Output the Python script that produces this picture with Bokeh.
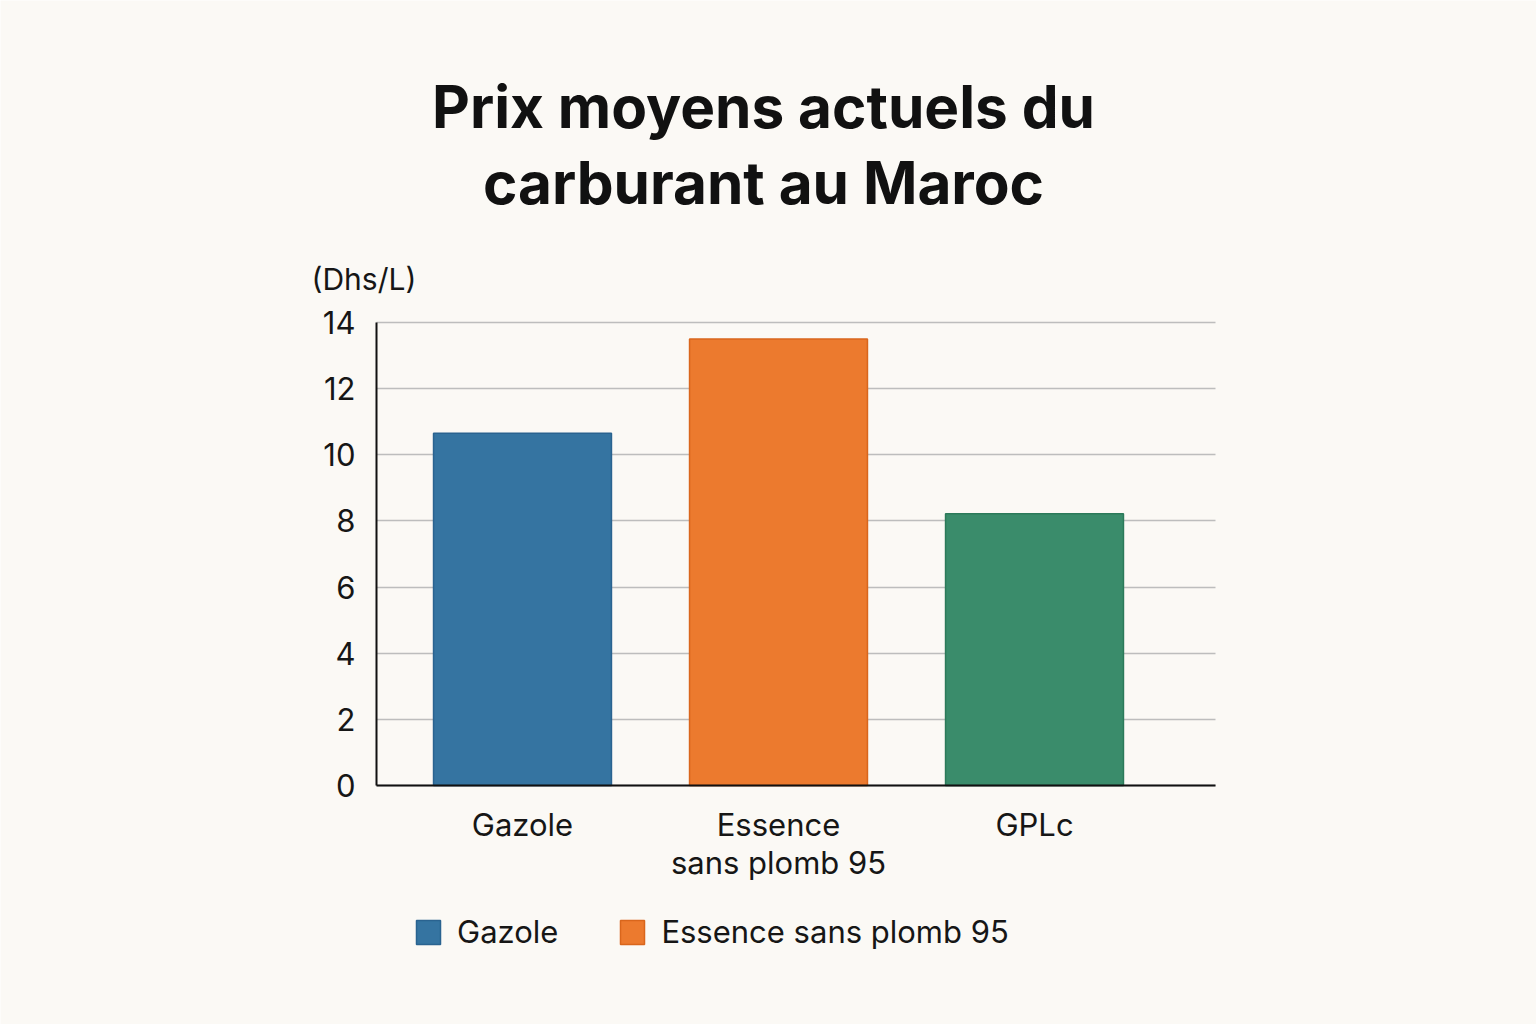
from bokeh.plotting import figure
from bokeh.models import Range1d, FixedTicker, Label, Legend, LegendItem, ColumnDataSource
from bokeh.embed import file_html
from bokeh.resources import INLINE

# ---- data ----
categories = ["Gazole", "Essence\nsans plomb 95", "GPLc"]
prices = [10.65, 13.5, 8.22]
bar_colors = ["#3574A1", "#EC7A2E", "#3A8C6B"]
edge_colors = ["#2A6390", "#D9661C", "#2C7A5A"]
y_ticks = [0, 2, 4, 6, 8, 10, 12, 14]
title_lines = ["Prix moyens actuels du", "carburant au Maroc"]
unit_label = "(Dhs/L)"
legend_labels = ["Gazole", "Essence sans plomb 95"]

FONT = "Inter"
BG = "#FBF9F5"
TXT = "#161616"

# ---- layout geometry (page pixels) ----
W, H = 1536, 1024
AL, AR, AT, AB = 376, 1215, 321, 785        # chart area edges
XL, XR = -0.5703, 2.707                     # chart area x extent (data)
YB, YT = 0.0, 14.03                         # chart area y extent (data)
sx = (AR - AL) / (XR - XL)
sy = (AB - AT) / (YT - YB)

def dx(px):
    return XL + (px - AL) / sx

def dy(py):
    return YB + (AB - py) / sy

xs = list(range(len(categories)))
src = ColumnDataSource(dict(x=xs, top=prices, fill=bar_colors, edge=edge_colors))

p = figure(width=W, height=H, x_range=Range1d(dx(0), dx(W)), y_range=Range1d(dy(H), dy(0)),
           output_backend="svg", toolbar_location=None,
           min_border=0, min_border_left=0, min_border_right=0,
           min_border_top=0, min_border_bottom=0)
p.background_fill_color = BG
p.border_fill_color = BG
p.outline_line_color = None

r = p.vbar(x="x", top="top", width=0.695, source=src,
           fill_color="fill", line_color="edge", line_width=1.5)

p.xgrid.grid_line_color = None
p.ygrid.grid_line_color = "#BDBDBD"
p.ygrid.grid_line_width = 1.5
p.ygrid.ticker = FixedTicker(ticks=y_ticks)
p.ygrid.cross_bounds = (XL, XR)

p.yaxis.ticker = FixedTicker(ticks=y_ticks)
p.yaxis.fixed_location = XL
p.yaxis.bounds = (0, 14)
p.xaxis.ticker = FixedTicker(ticks=xs)
p.xaxis.fixed_location = 0
p.xaxis.bounds = (XL, XR)
p.xaxis.major_label_overrides = {i: c for i, c in zip(xs, categories)}

for ax in (p.xaxis, p.yaxis):
    ax.axis_line_color = "#111111"
    ax.axis_line_width = 2
    ax.major_tick_line_color = None
    ax.minor_tick_line_color = None
    ax.major_label_text_font = FONT
    ax.major_label_text_font_size = "31px"
    ax.major_label_text_color = TXT
p.yaxis.major_label_standoff = 15
p.xaxis.major_label_standoff = 14
p.xaxis.major_label_text_line_height = 1.05

for line, base in zip(title_lines, [106, 182]):
    p.add_layout(Label(x=dx(763), y=dy(base), text=line, text_align="center",
                       text_baseline="alphabetic", text_font=FONT, text_font_style="bold",
                       text_font_size="58.5px", text_color="#111111"))
p.add_layout(Label(x=dx(311), y=dy(278), text=unit_label, text_align="left",
                   text_baseline="alphabetic", text_font=FONT, text_font_size="30px",
                   text_color=TXT))

legend = Legend(items=[LegendItem(label=legend_labels[i], renderers=[r], index=i) for i in range(2)],
                orientation="horizontal", location=(413, 74),
                glyph_width=30, glyph_height=30, label_standoff=14, spacing=59,
                padding=0, margin=0, border_line_color=None, background_fill_alpha=0,
                label_text_font=FONT, label_text_font_size="31px", label_text_color=TXT)
p.add_layout(legend, "center")

open("out.html", "w").write(file_html(p, INLINE))
